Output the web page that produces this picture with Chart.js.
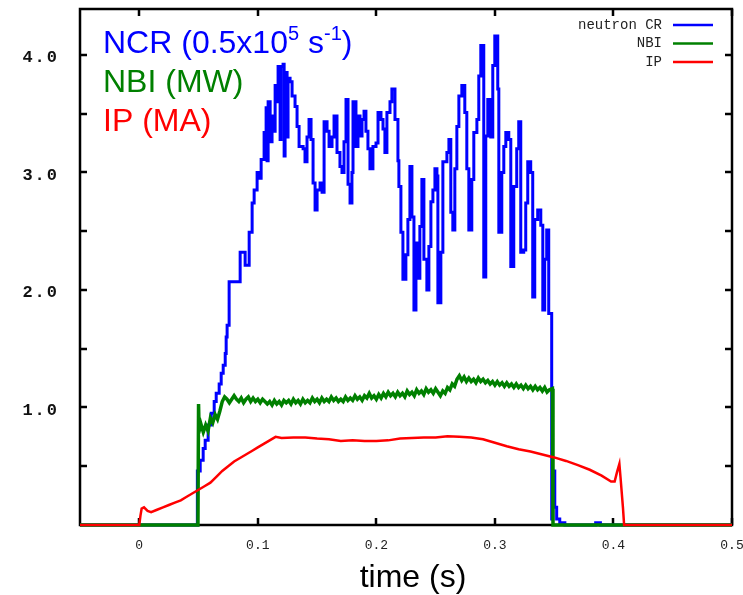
<!DOCTYPE html>
<html>
<head>
<meta charset="utf-8">
<script src="https://cdn.jsdelivr.net/npm/chart.js@4.4.1/dist/chart.umd.min.js"></script>
<style>
  html, body { margin: 0; padding: 0; background: #fff; }
  #wrap { width: 743px; height: 595px; }
</style>
</head>
<body>
<div id="wrap"><canvas id="chart" width="743" height="595"></canvas></div>
<script>
// axis ticks
const xTicks = [0, 0.1, 0.2, 0.3, 0.4, 0.5];
const xTickLabels = ["0", "0.1", "0.2", "0.3", "0.4", "0.5"];
const yTicks = [0.5, 1, 1.5, 2, 2.5, 3, 3.5, 4];
const yLabelValues = [1, 2, 3, 4];
const yLabelText = ["1.0", "2.0", "3.0", "4.0"];

// neutron count rate (0.5x10^5 s^-1)
const ncrTime = [-0.05, 0.048, 0.049, 0.0514, 0.0539, 0.0556, 0.0581, 0.0607, 0.0632, 0.0649, 0.0674, 0.0691,
  0.0708, 0.0725, 0.0733, 0.0741, 0.0758, 0.0792, 0.0851, 0.0893, 0.0927, 0.0952, 0.0969, 0.0994, 0.1011,
  0.1028, 0.1053, 0.107, 0.1078, 0.1087, 0.1104, 0.112, 0.1137, 0.1146, 0.1163, 0.1171, 0.1188, 0.1196,
  0.1213, 0.1222, 0.123, 0.1247, 0.1255, 0.1272, 0.1289, 0.1314, 0.1331, 0.1348, 0.1382, 0.1398, 0.1415,
  0.1432, 0.1449, 0.1466, 0.1483, 0.15, 0.1525, 0.1542, 0.1559, 0.1584, 0.1601, 0.1626, 0.1643, 0.1668,
  0.1693, 0.171, 0.1727, 0.1744, 0.1761, 0.1778, 0.1794, 0.1803, 0.1828, 0.1845, 0.1862, 0.1879, 0.1896,
  0.1912, 0.1929, 0.1946, 0.1971, 0.1997, 0.2014, 0.2039, 0.2056, 0.2072, 0.2089, 0.2115, 0.2131, 0.2157,
  0.2182, 0.219, 0.2207, 0.2224, 0.2249, 0.2266, 0.2283, 0.23, 0.2317, 0.2334, 0.235, 0.2367, 0.2384,
  0.2401, 0.2426, 0.2443, 0.246, 0.2477, 0.2494, 0.2511, 0.2519, 0.2544, 0.2561, 0.2595, 0.2612, 0.2628,
  0.2645, 0.2662, 0.2679, 0.2696, 0.2721, 0.2746, 0.2763, 0.278, 0.2805, 0.2822, 0.2848, 0.2864, 0.2881,
  0.2906, 0.2923, 0.294, 0.2965, 0.2982, 0.2999, 0.3024, 0.3033, 0.3058, 0.3075, 0.3092, 0.3117, 0.3134,
  0.3159, 0.3184, 0.3201, 0.3218, 0.3243, 0.326, 0.3277, 0.3302, 0.3319, 0.3336, 0.3361, 0.3387, 0.3404,
  0.342, 0.3437, 0.3454, 0.3479, 0.3488, 0.3505, 0.3521, 0.3547, 0.359, 0.385, 0.389, 0.5];
const ncrRate = [0, 0, 0.46, 0.55, 0.65, 0.72, 0.85, 0.95, 1.05, 1.12, 1.2, 1.29,
  1.36, 1.46, 1.6, 1.7, 2.07, 2.07, 2.32, 2.21, 2.49, 2.74, 2.85, 3.0, 2.95,
  3.11, 3.34, 3.55, 3.1, 3.6, 3.26, 3.48, 3.35, 3.74, 3.6, 3.9, 3.28, 3.9,
  3.92, 3.14, 3.85, 3.3, 3.8, 3.77, 3.65, 3.56, 3.39, 3.22, 3.2, 3.09, 3.3,
  3.45, 3.28, 2.91, 2.68, 2.85, 2.91, 2.83, 3.43, 3.35, 3.22, 3.3, 3.48, 3.17,
  3.05, 3.0, 3.26, 3.62, 2.9, 2.74, 3.0, 3.6, 3.22, 3.48, 3.31, 3.45, 3.52,
  3.35, 3.2, 3.03, 3.22, 3.25, 3.51, 3.45, 3.37, 3.17, 3.51, 3.6, 3.71, 3.45,
  3.1, 2.88, 2.49, 2.09, 2.3, 2.6, 3.05, 2.62, 1.83, 2.4, 2.1, 2.54, 2.94,
  2.26, 2.0, 2.37, 2.75, 2.85, 3.03, 2.97, 1.89, 2.32, 3.09, 3.17, 3.28, 2.66,
  2.51, 3.03, 3.39, 3.65, 3.74, 3.51, 3.03, 2.51, 2.94, 3.34, 3.45, 3.82, 4.08,
  2.11, 3.31, 3.62, 3.3, 3.91, 4.16, 3.71, 2.49, 3.0, 3.22, 3.34, 3.28, 2.2,
  2.88, 3.2, 3.43, 2.32, 2.34, 2.74, 3.09, 3.0, 1.94, 2.6, 2.68, 2.55, 1.83,
  2.26, 2.51, 1.8, 0.05, 0.46, 0.15, 0.05, 0.02, 0, 0.02, 0, 0];

// NBI power (MW)
const nbiTime = [-0.05, 0.0495, 0.05, 0.0505, 0.052, 0.054, 0.056, 0.058, 0.06, 0.062, 0.064, 0.066, 0.068,
  0.07, 0.072, 0.074, 0.076, 0.078, 0.08, 0.082, 0.084, 0.086, 0.088, 0.09, 0.092, 0.094, 0.096, 0.098,
  0.1, 0.102, 0.104, 0.106, 0.108, 0.11, 0.112, 0.114, 0.116, 0.118, 0.12, 0.122, 0.124, 0.126, 0.128,
  0.13, 0.132, 0.134, 0.136, 0.138, 0.14, 0.142, 0.144, 0.146, 0.148, 0.15, 0.152, 0.154, 0.156, 0.158,
  0.16, 0.162, 0.164, 0.166, 0.168, 0.17, 0.172, 0.174, 0.176, 0.178, 0.18, 0.182, 0.184, 0.186, 0.188,
  0.19, 0.192, 0.194, 0.196, 0.198, 0.2, 0.202, 0.204, 0.206, 0.208, 0.21, 0.212, 0.214, 0.216, 0.218,
  0.22, 0.222, 0.224, 0.226, 0.228, 0.23, 0.232, 0.234, 0.236, 0.238, 0.24, 0.242, 0.244, 0.246, 0.248,
  0.25, 0.252, 0.254, 0.256, 0.258, 0.26, 0.262, 0.264, 0.266, 0.268, 0.27, 0.272, 0.274, 0.276, 0.278,
  0.28, 0.282, 0.284, 0.286, 0.288, 0.29, 0.292, 0.294, 0.296, 0.298, 0.3, 0.302, 0.304, 0.306, 0.308,
  0.31, 0.312, 0.314, 0.316, 0.318, 0.32, 0.322, 0.324, 0.326, 0.328, 0.33, 0.332, 0.334, 0.336, 0.338,
  0.34, 0.342, 0.344, 0.346, 0.3485, 0.349, 0.5];
const nbiPower = [0, 0, 1.03, 0.8, 0.86, 0.79, 0.85, 0.8, 0.91, 0.87, 0.94, 0.9, 0.97,
  1.05, 1.09, 1.07, 1.04, 1.07, 1.1, 1.07, 1.05, 1.08, 1.04, 1.07, 1.09, 1.05, 1.08, 1.05,
  1.07, 1.04, 1.07, 1.05, 1.03, 1.05, 1.02, 1.06, 1.03, 1.05, 1.02, 1.06, 1.04, 1.06, 1.03,
  1.07, 1.04, 1.06, 1.03, 1.07, 1.04, 1.06, 1.04, 1.08, 1.05, 1.07, 1.04, 1.08, 1.05, 1.07,
  1.05, 1.09, 1.06, 1.08, 1.05, 1.07, 1.05, 1.09, 1.06, 1.08, 1.06, 1.1, 1.07, 1.09, 1.06,
  1.1, 1.08, 1.12, 1.08, 1.1, 1.07, 1.11, 1.08, 1.12, 1.09, 1.13, 1.1, 1.12, 1.09, 1.13,
  1.1, 1.12, 1.09, 1.14, 1.11, 1.13, 1.1, 1.15, 1.12, 1.14, 1.11, 1.16, 1.13, 1.15, 1.12,
  1.16, 1.13, 1.1, 1.14, 1.12, 1.17, 1.15, 1.2, 1.18, 1.24, 1.27, 1.23, 1.26, 1.22, 1.25,
  1.22, 1.24, 1.21, 1.25, 1.22, 1.24, 1.21, 1.23, 1.2, 1.22, 1.19, 1.22, 1.19, 1.21, 1.18,
  1.21, 1.18, 1.2, 1.17, 1.2, 1.17, 1.19, 1.16, 1.19, 1.16, 1.18, 1.15, 1.18, 1.15, 1.17,
  1.14, 1.17, 1.13, 1.15, 1.16, 0, 0];

// plasma current (MA)
const ipTime = [-0.05, 0, 0.001, 0.002, 0.004, 0.007, 0.01, 0.015, 0.02, 0.025, 0.03, 0.035, 0.04, 0.045,
  0.05, 0.055, 0.06, 0.065, 0.07, 0.075, 0.08, 0.085, 0.09, 0.095, 0.1, 0.105, 0.11, 0.115, 0.12, 0.13,
  0.14, 0.15, 0.16, 0.17, 0.18, 0.19, 0.2, 0.21, 0.22, 0.23, 0.24, 0.25, 0.26, 0.27, 0.28, 0.29, 0.3,
  0.31, 0.32, 0.33, 0.34, 0.35, 0.36, 0.37, 0.38, 0.39, 0.398, 0.401, 0.403, 0.405, 0.406, 0.408, 0.409, 0.5];
const ipCurrent = [0, 0, 0.08, 0.14, 0.15, 0.12, 0.11, 0.13, 0.15, 0.17, 0.19, 0.21, 0.24, 0.27,
  0.3, 0.33, 0.36, 0.41, 0.46, 0.5, 0.54, 0.57, 0.6, 0.63, 0.66, 0.69, 0.72, 0.75, 0.74, 0.745,
  0.745, 0.735, 0.73, 0.715, 0.72, 0.715, 0.715, 0.72, 0.735, 0.74, 0.745, 0.745, 0.755, 0.75, 0.745, 0.73, 0.7,
  0.67, 0.645, 0.625, 0.6, 0.575, 0.545, 0.51, 0.47, 0.42, 0.37, 0.37, 0.45, 0.52, 0.4, 0.15, 0, 0];

function toPoints(times, values) {
  return times.map((t, i) => ({ x: t, y: values[i] }));
}

function drawRich(ctx, x, y, parts, color) {
  ctx.fillStyle = color;
  ctx.textAlign = "left";
  ctx.textBaseline = "alphabetic";
  parts.forEach((p) => {
    ctx.font = p.sup ? "20px 'Liberation Sans', Arial, sans-serif" : "32px 'Liberation Sans', Arial, sans-serif";
    const yy = p.sup ? y - 13 : y;
    ctx.fillText(p.text, x, yy);
    x += ctx.measureText(p.text).width;
  });
}

const framePlugin = {
  id: "frame",
  beforeDatasetsDraw(chart) {
    const { ctx, chartArea: a, scales } = chart;
    ctx.save();
    ctx.strokeStyle = "#000";
    ctx.lineWidth = 2.5;
    ctx.strokeRect(a.left, a.top, a.right - a.left, a.bottom - a.top);
    ctx.beginPath();
    xTicks.forEach((v) => {
      const px = Math.round(scales.x.getPixelForValue(v));
      ctx.moveTo(px, a.bottom); ctx.lineTo(px, a.bottom - 7);
      ctx.moveTo(px, a.top); ctx.lineTo(px, a.top + 7);
    });
    yTicks.forEach((v) => {
      const py = Math.round(scales.y.getPixelForValue(v));
      ctx.moveTo(a.left, py); ctx.lineTo(a.left + 7, py);
      ctx.moveTo(a.right, py); ctx.lineTo(a.right - 7, py);
    });
    ctx.stroke();
    ctx.restore();
  },
  afterDraw(chart) {
    const { ctx, chartArea: a, scales } = chart;
    ctx.save();

    // x tick labels
    ctx.fillStyle = "#222";
    ctx.font = "13px 'Liberation Mono', monospace";
    ctx.textAlign = "center";
    ctx.textBaseline = "middle";
    xTicks.forEach((v, i) => {
      ctx.fillText(xTickLabels[i], scales.x.getPixelForValue(v), a.bottom + 21);
    });

    // y tick labels
    ctx.fillStyle = "#111";
    ctx.font = "bold 17px 'Liberation Mono', monospace";
    ctx.letterSpacing = "2px";
    ctx.textAlign = "right";
    yLabelValues.forEach((v, i) => {
      ctx.fillText(yLabelText[i], a.left - 21, scales.y.getPixelForValue(v) + 3);
    });
    ctx.letterSpacing = "0px";

    // axis title
    ctx.fillStyle = "#000";
    ctx.font = "32px 'Liberation Sans', Arial, sans-serif";
    ctx.textAlign = "center";
    ctx.textBaseline = "alphabetic";
    ctx.fillText("time (s)", 413, 587);

    // legend box, top right
    const legend = [
      { label: "neutron CR", color: "#0000ff" },
      { label: "NBI", color: "#008000" },
      { label: "IP", color: "#ff0000" },
    ];
    ctx.font = "14px 'Liberation Mono', monospace";
    ctx.textAlign = "right";
    ctx.textBaseline = "middle";
    legend.forEach((item, i) => {
      const y = 25 + i * 18.5;
      ctx.fillStyle = "#222";
      ctx.fillText(item.label, 662, y);
      ctx.strokeStyle = item.color;
      ctx.lineWidth = 2.5;
      ctx.beginPath();
      ctx.moveTo(673, y);
      ctx.lineTo(713, y);
      ctx.stroke();
    });

    // annotations in the top-left corner
    drawRich(ctx, 103, 53, [
      { text: "NCR (0.5x10" }, { text: "5", sup: true }, { text: " s" }, { text: "-1", sup: true }, { text: ")" },
    ], "#0000ff");
    drawRich(ctx, 103, 92, [{ text: "NBI (MW)" }], "#008000");
    drawRich(ctx, 103, 131, [{ text: "IP (MA)" }], "#ff0000");

    ctx.restore();
  },
};

new Chart(document.getElementById("chart"), {
  type: "line",
  data: {
    datasets: [
      { label: "neutron CR", data: toPoints(ncrTime, ncrRate), borderColor: "#0000ff", borderWidth: 3, stepped: true, order: 3, clip: false },
      { label: "NBI", data: toPoints(nbiTime, nbiPower), borderColor: "#008000", borderWidth: 3.5, order: 2, clip: false },
      { label: "IP", data: toPoints(ipTime, ipCurrent), borderColor: "#ff0000", borderWidth: 2.5, order: 1, clip: false },
    ],
  },
  options: {
    responsive: false,
    animation: false,
    layout: { padding: { left: 80, right: 11, top: 9, bottom: 70 } },
    plugins: { legend: { display: false }, tooltip: { enabled: false } },
    elements: { point: { radius: 0 }, line: { tension: 0 } },
    scales: {
      x: { type: "linear", min: -0.05, max: 0.5, display: false },
      y: { type: "linear", min: 0, max: 4.39, display: false },
    },
  },
  plugins: [framePlugin],
});
</script>
</body>
</html>
